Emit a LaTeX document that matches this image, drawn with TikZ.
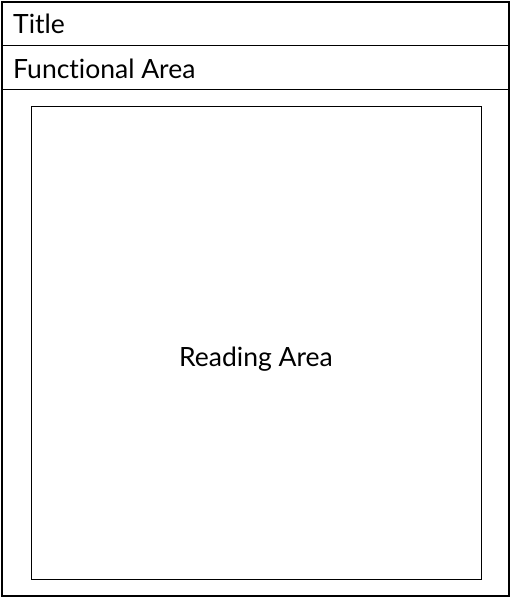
\documentclass[tikz,border=0pt]{standalone}
\usepackage{fontspec}
\setmainfont{Lato}[Ligatures={NoCommon,NoRare}]
\begin{document}
\begin{tikzpicture}[x=1pt,y=-1pt,
  frame/.style={draw=black,line width=2pt},
  thin/.style={draw=black,line width=1pt},
  lbl/.style={font=\fontsize{26.5}{30}\selectfont,inner sep=0pt,text=black}]
\useasboundingbox (0,0) rectangle (511,598);
\draw[frame] (2,2) rectangle (509,596);
\draw[thin] (2,45.5) -- (509,45.5);
\draw[thin] (2,89.5) -- (509,89.5);
\draw[thin] (31.5,106.5) rectangle (481.5,579.5);
\node[lbl,anchor=west] (title) at (13,24) {Title};
\node[lbl,anchor=west] (func) at (13,68.5) {Functional Area};
\node[lbl] (read) at (256,359) {Reading Area};
\end{tikzpicture}
\end{document}
